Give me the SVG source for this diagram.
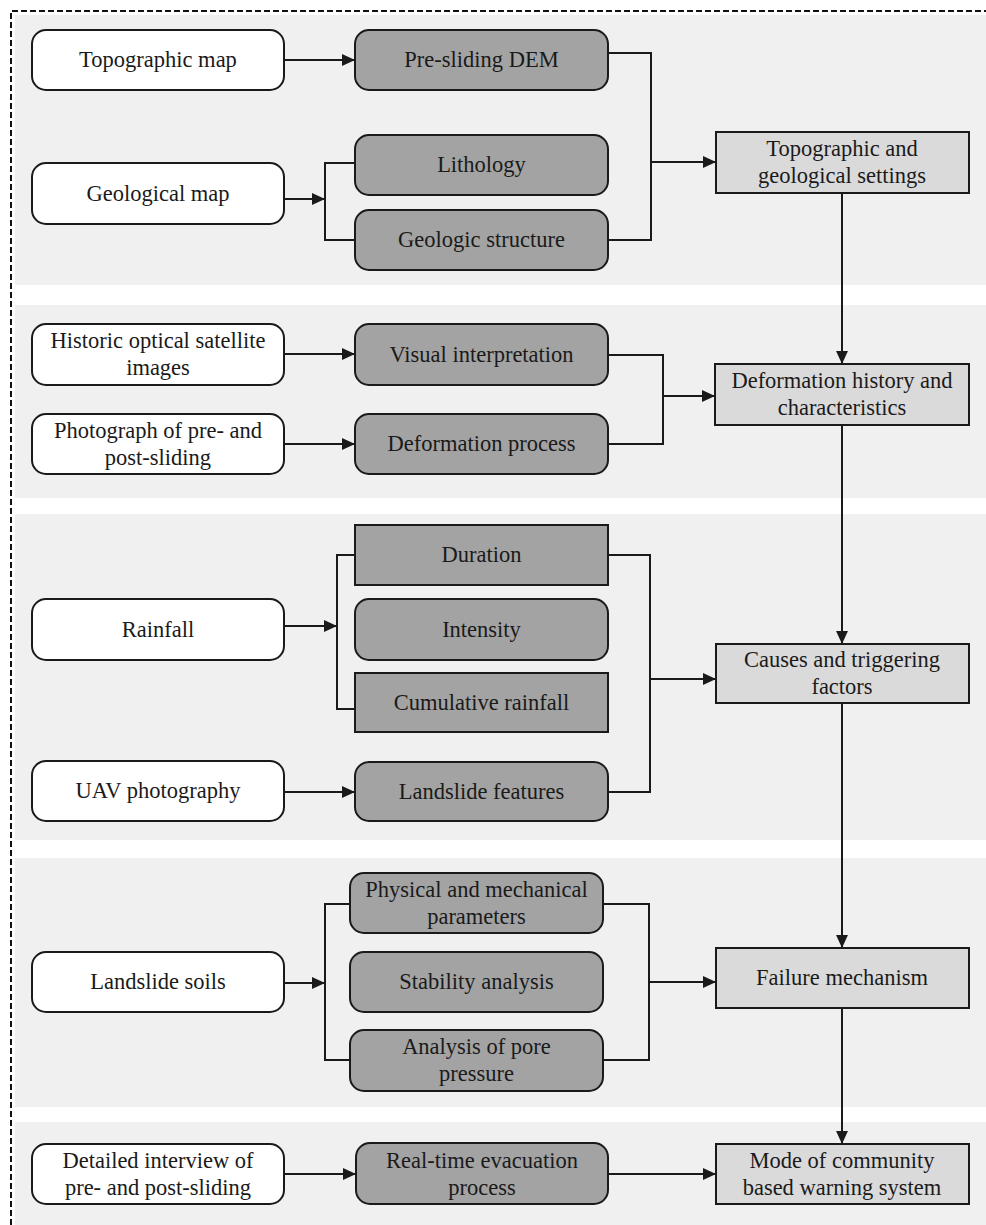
<svg xmlns="http://www.w3.org/2000/svg" width="986" height="1225" viewBox="0 0 986 1225">
<style>
.band{fill:#f0f0f0}
.src{fill:#ffffff;stroke:#1a1a1a;stroke-width:2}
.mid{fill:#a3a3a3;stroke:#1a1a1a;stroke-width:2}
.out{fill:#dadada;stroke:#1a1a1a;stroke-width:2}
text{font-family:"Liberation Serif","Times New Roman",serif;font-size:22.5px;fill:#1a1a1a;text-anchor:middle}
.con{fill:none;stroke:#1a1a1a;stroke-width:2}
</style>
<defs>
<marker id="ah" viewBox="0 0 12 12" refX="12" refY="6" markerWidth="13" markerHeight="13" markerUnits="userSpaceOnUse" orient="auto">
<path d="M0,0.5 L12,6 L0,11.5 Z" fill="#1a1a1a"/>
</marker>
</defs>
<g id="background">
<rect class="band" x="15" y="15" width="971" height="270"/>
<rect class="band" x="15" y="305" width="971" height="193"/>
<rect class="band" x="15" y="514" width="971" height="326"/>
<rect class="band" x="15" y="858" width="971" height="249"/>
<rect class="band" x="15" y="1122" width="971" height="103"/>
<path d="M11,1225 V11 H986" fill="none" stroke="#111" stroke-width="2" stroke-dasharray="6 3"/>
</g>
<g id="connectors">
<path class="con" d="M284,60 H355" marker-end="url(#ah)"/>
<path class="con" d="M284,199 H325" marker-end="url(#ah)"/>
<path class="con" d="M355,163 H325 V240 H355"/>
<path class="con" d="M608,53 H651 V240 H608"/>
<path class="con" d="M651,162 H716" marker-end="url(#ah)"/>
<path class="con" d="M842,193 V364" marker-end="url(#ah)"/>
<path class="con" d="M284,354 H355" marker-end="url(#ah)"/>
<path class="con" d="M284,444 H355" marker-end="url(#ah)"/>
<path class="con" d="M608,355 H663 V444 H608"/>
<path class="con" d="M663,396 H715" marker-end="url(#ah)"/>
<path class="con" d="M842,425 V644" marker-end="url(#ah)"/>
<path class="con" d="M284,626 H337" marker-end="url(#ah)"/>
<path class="con" d="M355,555 H337 V709 H355"/>
<path class="con" d="M284,792 H355" marker-end="url(#ah)"/>
<path class="con" d="M608,555 H650 V792 H608"/>
<path class="con" d="M650,679 H716" marker-end="url(#ah)"/>
<path class="con" d="M842,703 V948" marker-end="url(#ah)"/>
<path class="con" d="M284,983 H325" marker-end="url(#ah)"/>
<path class="con" d="M350,904 H325 V1060 H350"/>
<path class="con" d="M603,904 H649 V1060 H603"/>
<path class="con" d="M649,982 H716" marker-end="url(#ah)"/>
<path class="con" d="M842,1008 V1144" marker-end="url(#ah)"/>
<path class="con" d="M284,1174 H356" marker-end="url(#ah)"/>
<path class="con" d="M608,1174 H716" marker-end="url(#ah)"/>
</g>
<g id="n-topomap"><rect class="src" x="32" y="30" width="252" height="60" rx="14"/><text x="158" y="67">Topographic map</text></g>
<g id="n-dem"><rect class="mid" x="355" y="30" width="253" height="60" rx="14"/><text x="481.5" y="67">Pre-sliding DEM</text></g>
<g id="n-geomap"><rect class="src" x="32" y="163" width="252" height="61" rx="14"/><text x="158" y="200.5">Geological map</text></g>
<g id="n-lithology"><rect class="mid" x="355" y="135" width="253" height="60" rx="14"/><text x="481.5" y="172">Lithology</text></g>
<g id="n-geostruct"><rect class="mid" x="355" y="210" width="253" height="60" rx="14"/><text x="481.5" y="247">Geologic structure</text></g>
<g id="n-settings"><rect class="out" x="716" y="132" width="253" height="61"/><text x="842" y="155.5">Topographic and</text><text x="842" y="182.5">geological settings</text></g>

<g id="n-historic"><rect class="src" x="32" y="324" width="252" height="61" rx="14"/><text x="158" y="348">Historic optical satellite</text><text x="158" y="375">images</text></g>
<g id="n-photo"><rect class="src" x="32" y="414" width="252" height="60" rx="14"/><text x="158" y="437.5">Photograph of pre- and</text><text x="158" y="464.5">post-sliding</text></g>
<g id="n-visual"><rect class="mid" x="355" y="324" width="253" height="61" rx="14"/><text x="481.5" y="361.5">Visual interpretation</text></g>
<g id="n-defproc"><rect class="mid" x="355" y="414" width="253" height="60" rx="14"/><text x="481.5" y="451">Deformation process</text></g>
<g id="n-history"><rect class="out" x="715" y="364" width="254" height="61"/><text x="842" y="387.5">Deformation history and</text><text x="842" y="414.5">characteristics</text></g>

<g id="n-rainfall"><rect class="src" x="32" y="599" width="252" height="61" rx="14"/><text x="158" y="636.5">Rainfall</text></g>
<g id="n-uav"><rect class="src" x="32" y="761" width="252" height="60" rx="14"/><text x="158" y="798">UAV photography</text></g>
<g id="n-duration"><rect class="mid" x="355" y="525" width="253" height="60"/><text x="481.5" y="562">Duration</text></g>
<g id="n-intensity"><rect class="mid" x="355" y="599" width="253" height="61" rx="14"/><text x="481.5" y="636.5">Intensity</text></g>
<g id="n-cumulative"><rect class="mid" x="355" y="673" width="253" height="59"/><text x="481.5" y="709.5">Cumulative rainfall</text></g>
<g id="n-features"><rect class="mid" x="355" y="762" width="253" height="59" rx="14"/><text x="481.5" y="798.5">Landslide features</text></g>
<g id="n-causes"><rect class="out" x="716" y="644" width="253" height="59"/><text x="842" y="667">Causes and triggering</text><text x="842" y="694">factors</text></g>

<g id="n-soils"><rect class="src" x="32" y="952" width="252" height="60" rx="14"/><text x="158" y="989">Landslide soils</text></g>
<g id="n-physical"><rect class="mid" x="350" y="873" width="253" height="60" rx="14"/><text x="476.5" y="896.5">Physical and mechanical</text><text x="476.5" y="923.5">parameters</text></g>
<g id="n-stability"><rect class="mid" x="350" y="952" width="253" height="60" rx="14"/><text x="476.5" y="989">Stability analysis</text></g>
<g id="n-pore"><rect class="mid" x="350" y="1030" width="253" height="61" rx="14"/><text x="476.5" y="1054">Analysis of pore</text><text x="476.5" y="1081">pressure</text></g>
<g id="n-failure"><rect class="out" x="716" y="948" width="253" height="60"/><text x="842" y="985">Failure mechanism</text></g>

<g id="n-interview"><rect class="src" x="32" y="1144" width="252" height="60" rx="14"/><text x="158" y="1167.5">Detailed interview of</text><text x="158" y="1194.5">pre- and post-sliding</text></g>
<g id="n-evacuation"><rect class="mid" x="356" y="1143" width="252" height="61" rx="14"/><text x="482" y="1167.5">Real-time evacuation</text><text x="482" y="1194.5">process</text></g>
<g id="n-warning"><rect class="out" x="716" y="1144" width="253" height="60"/><text x="842" y="1167.5">Mode of community</text><text x="842" y="1194.5">based warning system</text></g>
</svg>
